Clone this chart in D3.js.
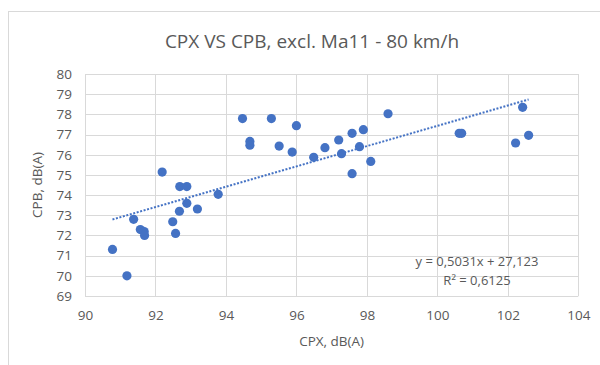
<!DOCTYPE html>
<html>
<head>
<meta charset="utf-8">
<script src="https://cdn.jsdelivr.net/npm/d3@7"></script>
<style>
  html, body { margin: 0; padding: 0; background: #fff; }
  svg { display: block; font-family: "Open Sans", "Noto Sans", sans-serif; }
</style>
</head>
<body>
<svg id="chart" width="600" height="365"></svg>
<script>
// CPX (dB(A)) and CPB (dB(A)) measurements at 80 km/h, Ma11 excluded
const cpx = [
  90.78, 91.19, 91.38, 91.57, 91.68, 91.69, 92.19, 92.49, 92.57, 92.68,
  92.69, 92.89, 92.89, 93.19, 93.78, 94.47, 94.68, 94.68, 95.29, 95.51,
  95.88, 96.00, 96.49, 96.81, 97.20, 97.28, 97.58, 97.58, 97.79, 97.90,
  98.11, 98.60, 100.62, 100.69, 102.22, 102.42, 102.59
];
const cpb = [
  71.31, 70.00, 72.80, 72.29, 72.19, 72.00, 75.14, 72.68, 72.10, 73.20,
  74.42, 74.42, 73.59, 73.31, 74.04, 77.79, 76.66, 76.47, 77.79, 76.43,
  76.13, 77.44, 75.87, 76.35, 76.73, 76.05, 77.06, 75.06, 76.40, 77.24,
  75.67, 78.03, 77.06, 77.06, 76.58, 78.35, 76.96
];

// Linear trendline as reported on the chart
const trendSlope = 0.5031;
const trendIntercept = 27.123;
const trendLabel = ["y = 0,5031x + 27,123", "R² = 0,6125"];

const xTicks = [90, 92, 94, 96, 98, 100, 102, 104];
const yTicks = [69, 70, 71, 72, 73, 74, 75, 76, 77, 78, 79, 80];

const titleText = "CPX VS CPB, excl. Ma11 - 80 km/h";
const xTitle = "CPX, dB(A)";
const yTitle = "CPB, dB(A)";

const svg = d3.select("#chart");
const textColor = "#595959";
const gridColor = "#d9d9d9";
const dotColor = "#4472c4";

// chart frame
svg.append("rect")
  .attr("x", 8.5).attr("y", 11.5)
  .attr("width", 620).attr("height", 370)
  .attr("fill", "#fff")
  .attr("stroke", gridColor);

const plot = { left: 85, right: 578.3, top: 74, bottom: 296 };

const x = d3.scaleLinear().domain([90, 104]).range([plot.left, plot.right]);
const y = d3.scaleLinear().domain([69, 80]).range([plot.bottom, plot.top]);

// gridlines
const g = svg.append("g");
g.selectAll("line.h").data(yTicks).join("line")
  .attr("class", "h")
  .attr("x1", plot.left).attr("x2", plot.right)
  .attr("y1", d => Math.round(y(d)) + 0.5).attr("y2", d => Math.round(y(d)) + 0.5)
  .attr("stroke", gridColor).attr("stroke-width", 1);
g.selectAll("line.v").data(xTicks).join("line")
  .attr("class", "v")
  .attr("y1", plot.top).attr("y2", plot.bottom)
  .attr("x1", d => Math.round(x(d)) + 0.5).attr("x2", d => Math.round(x(d)) + 0.5)
  .attr("stroke", gridColor).attr("stroke-width", 1);

// axis tick labels via d3 axes
const xAxis = svg.append("g")
  .attr("transform", `translate(0,${plot.bottom})`)
  .call(d3.axisBottom(x).tickValues(xTicks).tickSize(0).tickPadding(14).tickFormat(d3.format("d")));
const yAxis = svg.append("g")
  .attr("transform", `translate(${plot.left},0)`)
  .call(d3.axisLeft(y).tickValues(yTicks).tickSize(0).tickPadding(13).tickFormat(d3.format("d")));
[xAxis, yAxis].forEach(a => {
  a.select(".domain").remove();
  a.selectAll("text")
    .attr("fill", textColor)
    .style("font-size", "13.5px")
    .style("font-family", "'Open Sans', 'Noto Sans', sans-serif");
});

// trendline
const xMin = d3.min(cpx), xMax = d3.max(cpx);
svg.append("line")
  .attr("x1", x(xMin)).attr("y1", y(trendSlope * xMin + trendIntercept))
  .attr("x2", x(xMax)).attr("y2", y(trendSlope * xMax + trendIntercept))
  .attr("stroke", dotColor)
  .attr("stroke-width", 2)
  .attr("stroke-dasharray", "2 1.6");

// data points
svg.append("g").selectAll("circle")
  .data(cpx.map((v, i) => [v, cpb[i]]))
  .join("circle")
  .attr("cx", d => x(d[0]))
  .attr("cy", d => y(d[1]))
  .attr("r", 4.6)
  .attr("fill", dotColor);

// trendline equation
svg.append("g").selectAll("text")
  .data(trendLabel).join("text")
  .attr("x", 477)
  .attr("y", (d, i) => 266 + i * 19)
  .attr("text-anchor", "middle")
  .attr("fill", textColor)
  .style("font-size", "13px")
  .text(d => d);

// titles
svg.append("text")
  .attr("x", 312).attr("y", 48)
  .attr("text-anchor", "middle")
  .attr("fill", textColor)
  .style("font-size", "19px")
  .text(titleText);

svg.append("text")
  .attr("x", (plot.left + plot.right) / 2).attr("y", 346)
  .attr("text-anchor", "middle")
  .attr("fill", textColor)
  .style("font-size", "13.5px")
  .text(xTitle);

svg.append("text")
  .attr("transform", `translate(42,${(plot.top + plot.bottom) / 2}) rotate(-90)`)
  .attr("text-anchor", "middle")
  .attr("fill", textColor)
  .style("font-size", "13.5px")
  .text(yTitle);
</script>
</body>
</html>
